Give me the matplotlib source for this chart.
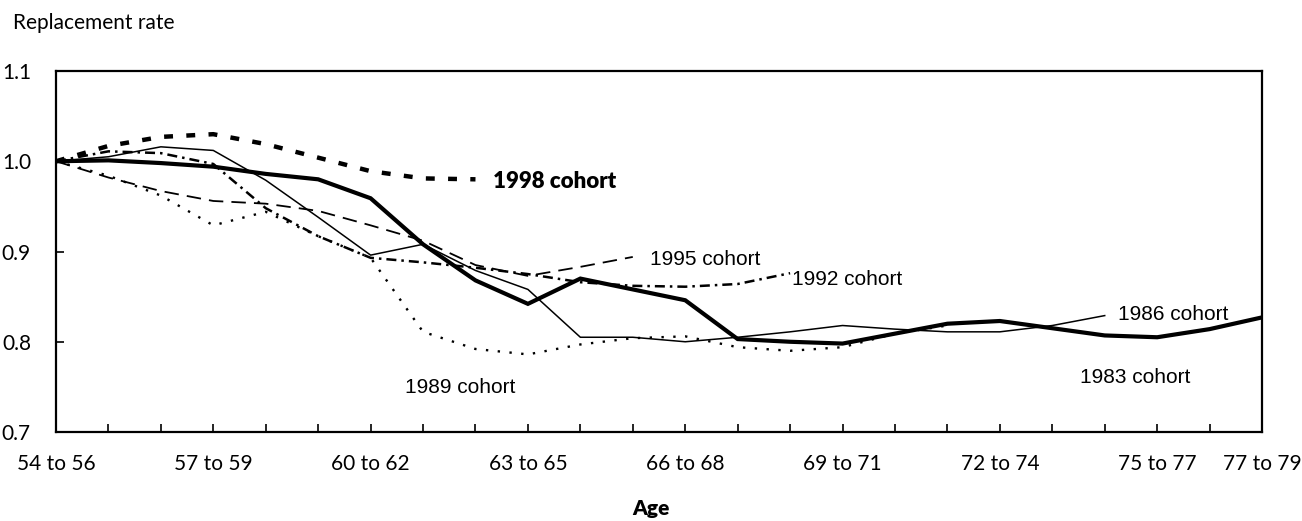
import matplotlib
matplotlib.use("Agg")
import matplotlib.pyplot as plt
import numpy as np

# Age groups (x categories)
ages = ["54 to 56", "55 to 57", "56 to 58", "57 to 59", "58 to 60", "59 to 61",
        "60 to 62", "61 to 63", "62 to 64", "63 to 65", "64 to 66", "65 to 67",
        "66 to 68", "67 to 69", "68 to 70", "69 to 71", "70 to 72", "71 to 73",
        "72 to 74", "73 to 75", "74 to 76", "75 to 77", "76 to 78", "77 to 79"]
shown_labels = ["54 to 56", "57 to 59", "60 to 62", "63 to 65", "66 to 68",
                "69 to 71", "72 to 74", "75 to 77", "77 to 79"]

c1983 = [1.000, 1.001, 0.998, 0.994, 0.986, 0.980, 0.959, 0.908, 0.868, 0.842,
         0.870, 0.858, 0.846, 0.803, 0.800, 0.798, 0.809, 0.820, 0.823, 0.815,
         0.807, 0.805, 0.814, 0.827]
c1986 = [1.000, 1.005, 1.016, 1.012, 0.979, 0.938, 0.896, 0.908, 0.879, 0.858,
         0.805, 0.805, 0.800, 0.805, 0.811, 0.818, 0.814, 0.811, 0.811, 0.818,
         0.829]
c1989 = [1.000, 0.984, 0.962, 0.929, 0.944, 0.917, 0.893, 0.811, 0.792, 0.786,
         0.797, 0.804, 0.806, 0.794, 0.790, 0.794, 0.809, 0.818]
c1992 = [1.000, 1.011, 1.009, 0.997, 0.948, 0.917, 0.893, 0.888, 0.882, 0.875,
         0.866, 0.862, 0.861, 0.864, 0.876]
c1995 = [1.000, 0.982, 0.967, 0.956, 0.953, 0.945, 0.929, 0.912, 0.885, 0.873,
         0.883, 0.894]
c1998 = [1.000, 1.017, 1.027, 1.030, 1.019, 1.004, 0.989, 0.981, 0.980]

y_ticks = [0.7, 0.8, 0.9, 1.0, 1.1]

TICK_FONT = ["Lato", "DejaVu Sans"]
LABEL_FONT = ["Liberation Sans", "DejaVu Sans"]

fig = plt.figure(figsize=(13.02, 5.21), dpi=100)
ax = fig.add_axes([0.043, 0.1708, 0.9263, 0.6929])

def xs(vals):
    return np.arange(len(vals))

ax.plot(xs(c1995), c1995, color="black", lw=1.3, dashes=(8, 4.5))
ax.plot(xs(c1992), c1992, color="black", lw=1.8, dashes=(4, 2, 1, 2))
ax.plot(xs(c1989), c1989, color="black", lw=1.7, dashes=(1, 4))
ax.plot(xs(c1986), c1986, color="black", lw=1.1)
ax.plot(xs(c1998), c1998, color="black", lw=3.2, dashes=(2, 3))
ax.plot(xs(c1983), c1983, color="black", lw=3.0, solid_joinstyle="miter")

ax.set_xlim(0, len(ages) - 1)
ax.set_ylim(0.7, 1.1)
ax.set_xticks(np.arange(len(ages)))
ax.set_xticklabels([a if a in shown_labels else "" for a in ages],
                   family=TICK_FONT, fontsize=15)
ax.set_yticks(y_ticks)
ax.set_yticklabels([f"{v:.1f}" for v in y_ticks], family=TICK_FONT, fontsize=15)
ax.tick_params(axis="both", direction="in", length=6, width=1.2, colors="black")
ax.tick_params(axis="x", pad=16)
ax.tick_params(axis="y", pad=18)
for s in ax.spines.values():
    s.set_linewidth(1.6)

# cohort labels
ax.text(8.33, 0.978, "1998 cohort", family=TICK_FONT, fontsize=16,
        fontweight="heavy", va="center", ha="left")
ax.text(11.33, 0.891, "1995 cohort", family=LABEL_FONT, fontsize=15,
        va="center", ha="left")
ax.text(14.04, 0.869, "1992 cohort", family=LABEL_FONT, fontsize=15,
        va="center", ha="left")
ax.text(20.26, 0.830, "1986 cohort", family=LABEL_FONT, fontsize=15,
        va="center", ha="left")
ax.text(19.53, 0.760, "1983 cohort", family=LABEL_FONT, fontsize=15,
        va="center", ha="left")
ax.text(6.66, 0.749, "1989 cohort", family=LABEL_FONT, fontsize=15,
        va="center", ha="left")

fig.text(13 / 1302, 1 - 23 / 521, "Replacement rate", family=TICK_FONT,
         fontsize=15, ha="left", va="center")
fig.text(651 / 1302, 1 - 508 / 521, "Age", family=TICK_FONT, fontsize=15,
         fontweight="heavy", ha="center", va="center")

fig.savefig("out.png", dpi=100)
